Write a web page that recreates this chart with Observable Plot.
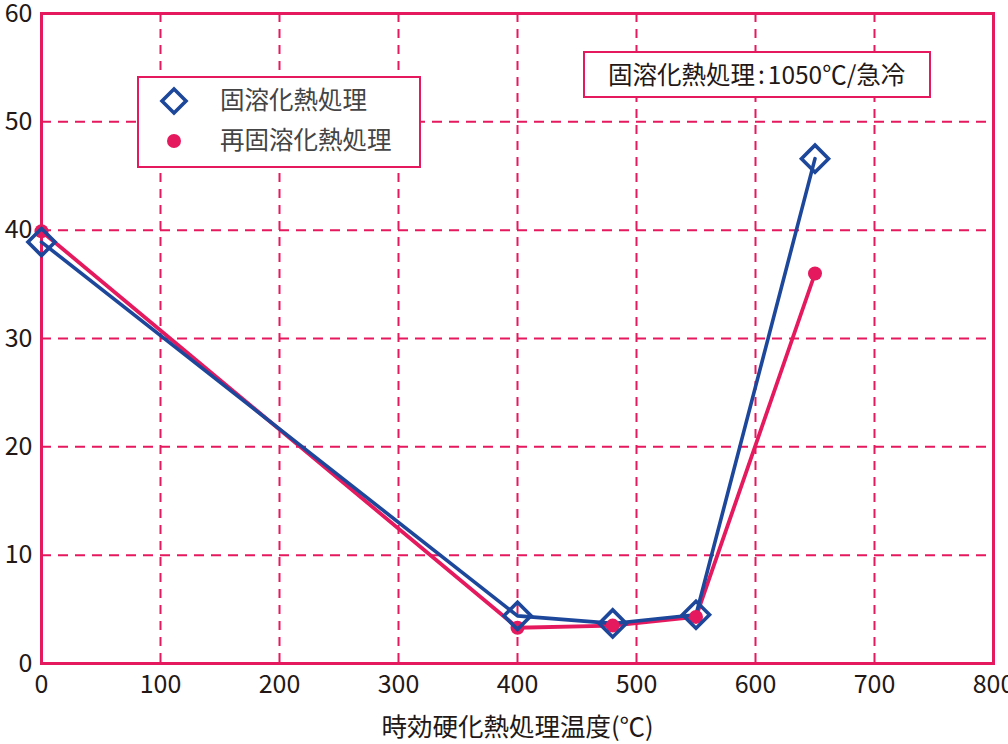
<!DOCTYPE html>
<html><head><meta charset="utf-8">
<script src="https://cdn.jsdelivr.net/npm/d3@7"></script>
<script src="https://cdn.jsdelivr.net/npm/@observablehq/plot@0.6"></script>
<style>
html,body{margin:0;padding:0;background:#fff;}
#wrap{position:relative;width:1008px;height:744px;font-family:"Noto Sans CJK JP",sans-serif;}
.box{position:absolute;background:#fff;border:2px solid #e5195e;box-sizing:border-box;}
.lg{position:absolute;font-size:24.5px;color:#444;line-height:1;white-space:nowrap;}
</style></head>
<body><div id="wrap"></div>
<script>
const temps = [0, 400, 480, 550, 650];
const solution = [38.9, 4.4, 3.7, 4.5, 46.6];     // 固溶化熱処理
const resolution = [39.9, 3.3, 3.5, 4.3, 36.0];   // 再固溶化熱処理
const xTicks = [0, 100, 200, 300, 400, 500, 600, 700, 800];
const yTicks = [0, 10, 20, 30, 40, 50, 60];
const seriesNames = ["固溶化熱処理", "再固溶化熱処理"];
const xLabel = "時効硬化熱処理温度(℃)";
const noteA = "固溶化熱処理", noteB = "1050℃/急冷";

const pink = "#e5195e", blue = "#1d479b";
const A = temps.map((t, i) => ({x: t, y: solution[i]}));
const B = temps.map((t, i) => ({x: t, y: resolution[i]}));

const chart = Plot.plot({
  width: 1008, height: 744,
  marginLeft: 41, marginTop: 13, marginRight: 15, marginBottom: 81,
  style: {fontFamily: '"Noto Sans CJK JP", sans-serif', fontSize: "25px", color: "#231815", background: "#fff", overflow: "visible"},
  x: {domain: [0, 800]},
  y: {domain: [0, 60]},
  marks: [
    Plot.ruleX(xTicks.slice(1, -1), {stroke: pink, strokeWidth: 2, strokeDasharray: "9,7"}),
    Plot.ruleY(yTicks.slice(1, -1), {stroke: pink, strokeWidth: 2, strokeDasharray: "10,7"}),
    Plot.frame({stroke: pink, strokeWidth: 3}),
    Plot.axisX({ticks: xTicks, tickSize: 0, tickPadding: 12, label: null, fontSize: 25}),
    Plot.axisY({ticks: yTicks, tickSize: 0, tickPadding: 9, label: null, fontSize: 25}),
    Plot.text([xLabel], {text: d => d, frameAnchor: "bottom", dy: 72, fontSize: 25.5, fill: "#231815"}),
    Plot.line(B, {x: "x", y: "y", stroke: pink, strokeWidth: 3.8}),
    Plot.line(A, {x: "x", y: "y", stroke: blue, strokeWidth: 3.6}),
    Plot.dot(B, {x: "x", y: "y", r: 7, fill: pink, stroke: "none"}),
    Plot.dot(A, {x: "x", y: "y", r: 12.2, symbol: "diamond2", fill: "none", stroke: blue, strokeWidth: 3.6})
  ]
});
const wrap = document.getElementById("wrap");
wrap.appendChild(chart);

// legend
const lb = document.createElement("div");
lb.className = "box";
Object.assign(lb.style, {left: "137px", top: "76px", width: "284px", height: "92px"});
lb.innerHTML = `<svg width="280" height="88" style="position:absolute;left:0;top:0">
<path d="M35,11 L47,23 L35,35 L23,23 Z" fill="none" stroke="${blue}" stroke-width="3.6"/>
<circle cx="35" cy="63" r="7" fill="${pink}"/></svg>
<div class="lg" style="left:81px;top:9px">${seriesNames[0]}</div>
<div class="lg" style="left:81px;top:49px">${seriesNames[1]}</div>`;
wrap.appendChild(lb);

// note
const nb = document.createElement("div");
nb.className = "box";
Object.assign(nb.style, {left: "583px", top: "51px", width: "348px", height: "47px"});
nb.innerHTML = `<div class="lg" style="left:23px;top:9px;color:#231815">${noteA}<span style="margin:0 3px">:</span>${noteB}</div>`;
wrap.appendChild(nb);
</script></body></html>
